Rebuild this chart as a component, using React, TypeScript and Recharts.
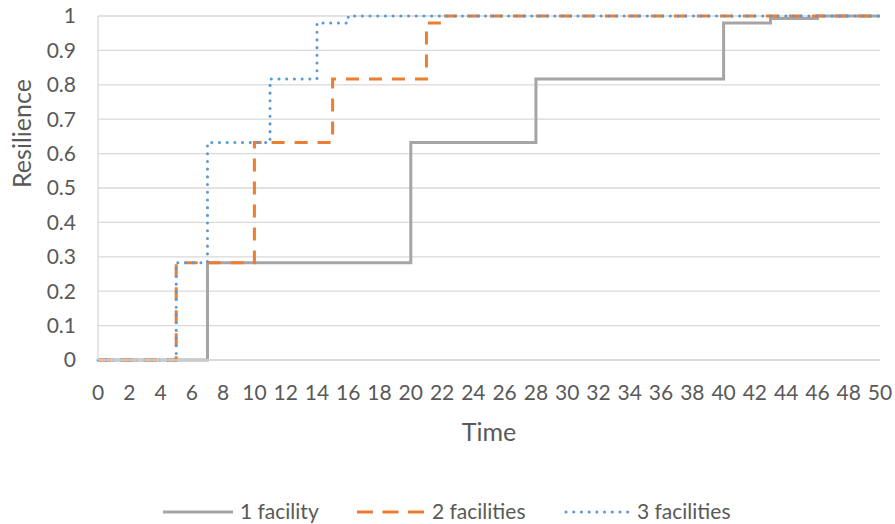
import { LineChart, Line, XAxis, YAxis, CartesianGrid, Legend } from 'recharts';

// step change times and resilience levels
const oneTimes = [0, 7, 20, 28, 40, 43, 46, 50];
const oneValues = [0, 0.283, 0.632, 0.817, 0.98, 0.993, 1, 1];
const twoTimes = [0, 5, 10, 15, 21, 22, 50];
const twoValues = [0, 0.283, 0.632, 0.817, 0.98, 1, 1];
const threeTimes = [0, 5, 7, 11, 14, 16, 50];
const threeValues = [0, 0.283, 0.632, 0.817, 0.98, 1, 1];

const xTicks = [0, 2, 4, 6, 8, 10, 12, 14, 16, 18, 20, 22, 24, 26, 28, 30, 32, 34, 36, 38, 40, 42, 44, 46, 48, 50];
const yTicks = [0, 0.1, 0.2, 0.3, 0.4, 0.5, 0.6, 0.7, 0.8, 0.9, 1];

const seriesNames = ['1 facility', '2 facilities', '3 facilities'];

const toPoints = (times: number[], values: number[]) => times.map((t, i) => ({ t, v: values[i] }));

const series = [
  { name: seriesNames[0], data: toPoints(oneTimes, oneValues), color: '#a5a5a5', dash: undefined, width: 3, cap: 'butt' },
  { name: seriesNames[1], data: toPoints(twoTimes, twoValues), color: '#ed7d31', dash: '13 10', width: 3, cap: 'butt' },
  { name: seriesNames[2], data: toPoints(threeTimes, threeValues), color: '#5b9bd5', dash: '0.1 7.6', width: 3, cap: 'round' },
];

const font = 'Lato, "Open Sans", sans-serif';
const textColor = '#595959';

function LegendContent() {
  const items = [
    { x: 163, len: 70, textX: 240 },
    { x: 357, len: 67, textX: 432 },
    { x: 566, len: 63, textX: 637 },
  ];
  return (
    <svg width={895} height={30} style={{ display: 'block' }}>
      {series.map((s, i) => (
        <g key={s.name}>
          <line
            x1={items[i].x}
            x2={items[i].x + items[i].len}
            y1={18}
            y2={18}
            stroke={s.color}
            strokeWidth={s.width}
            strokeDasharray={i === 1 ? '16 9.5' : s.dash}
            strokeLinecap={s.cap as any}
          />
          <text x={items[i].textX} y={25} fontSize={21} fill={textColor} fontFamily={font}>
            {s.name}
          </text>
        </g>
      ))}
    </svg>
  );
}

export default function App() {
  return (
    <div style={{ position: 'absolute', left: 0, top: 0, background: '#fff' }}>
      <LineChart width={895} height={524} margin={{ top: 16, right: 15, left: 0, bottom: 0 }}>
        <CartesianGrid vertical={false} stroke="#d9d9d9" strokeWidth={1.3} />
        <XAxis
          type="number"
          dataKey="t"
          domain={[0, 50]}
          ticks={xTicks}
          interval={0}
          allowDuplicatedCategory={false}
          height={134}
          tickSize={0}
          tickMargin={25}
          axisLine={{ stroke: '#d9d9d9', strokeWidth: 1.3 }}
          tickLine={false}
          tick={{ fontSize: 21, fill: textColor, fontFamily: font }}
          label={{ value: 'Time', position: 'insideTop', dy: 58, fontSize: 25, fill: textColor, fontFamily: font }}
        />
        <YAxis
          type="number"
          domain={[0, 1]}
          ticks={yTicks}
          interval={0}
          width={98}
          tickSize={0}
          tickMargin={22}
          axisLine={{ stroke: '#d9d9d9', strokeWidth: 1.3 }}
          tickLine={false}
          tick={{ fontSize: 21, fill: textColor, fontFamily: font }}
          tickFormatter={(v: number) => String(v)}
          label={{ value: 'Resilience', angle: -90, position: 'insideLeft', dx: 17, fontSize: 25, fill: textColor, fontFamily: font }}
        />
        <Legend verticalAlign="bottom" height={30} content={<LegendContent />} />
        {series.map((s) => (
          <Line
            key={s.name}
            data={s.data}
            dataKey="v"
            name={s.name}
            type="stepAfter"
            stroke={s.color}
            strokeWidth={s.width}
            strokeDasharray={s.dash}
            strokeLinecap={s.cap as any}
            dot={false}
            activeDot={false}
            isAnimationActive={false}
          />
        ))}
      </LineChart>
    </div>
  );
}
